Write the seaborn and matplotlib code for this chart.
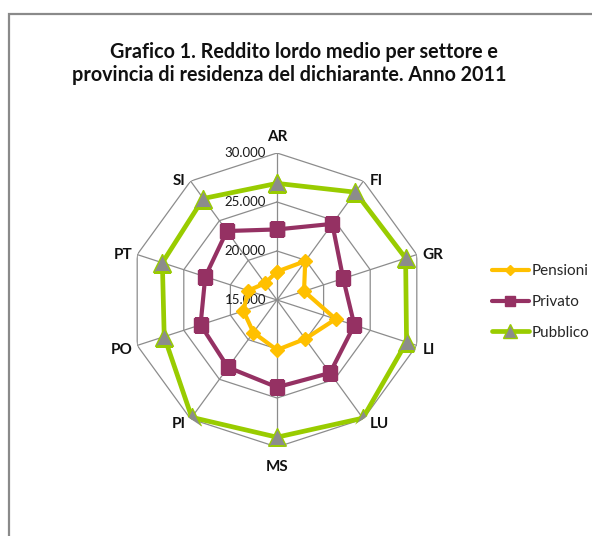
import numpy as np
import pandas as pd
import matplotlib
matplotlib.use("Agg")
import matplotlib.pyplot as plt
from matplotlib.lines import Line2D
from matplotlib.patches import Rectangle
import seaborn as sns

sns.set_theme(style="white")
plt.rcParams["font.family"] = ["Lato", "DejaVu Sans"]

# Province (clockwise from the top)
province = ["AR", "FI", "GR", "LI", "LU", "MS", "PI", "PO", "PT", "SI"]

# Average gross income (euro) by sector
pensioni = [17900, 19900, 17900, 21300, 19900, 20100, 19100, 18600, 18100, 17100]
privato = [22200, 24600, 22100, 23300, 24200, 23900, 23500, 23200, 22700, 23700]
pubblico = [26900, 28600, 28800, 28900, 29900, 29000, 29800, 27100, 27300, 27800]

serie = ["Pensioni", "Privato", "Pubblico"]
r_ticks = [15000, 20000, 25000, 30000]
r_tick_labels = ["15.000", "20.000", "25.000", "30.000"]

R_MIN, R_MAX = 15000, 30000

W, H = 592, 536
fig = plt.figure(figsize=(W / 100, H / 100), dpi=100)
fig.patch.set_facecolor("white")

# chart frame
fig.add_artist(Rectangle((9 / W, -0.1), 1.2, (H - 14) / H + 0.1,
                         transform=fig.transFigure, fill=False,
                         edgecolor="#8a8a8a", linewidth=1.6))

cx, cy, rad = 277, 300, 147
ax = fig.add_axes([(cx - rad) / W, (H - cy - rad) / H, 2 * rad / W, 2 * rad / H],
                  projection="polar")
ax.set_theta_zero_location("N")
ax.set_theta_direction(-1)
ax.set_ylim(R_MIN, R_MAX)
ax.grid(False)
ax.set_xticks([])
ax.set_yticks([])
ax.spines["polar"].set_visible(False)
ax.set_facecolor("none")

n = len(province)
theta = np.arange(n) * 2 * np.pi / n
theta_closed = np.append(theta, 2 * np.pi)

# decagonal grid and spokes
grid_c = "#8c8c8c"
for rv in r_ticks[1:]:
    ax.plot(theta_closed, [rv] * (n + 1), color=grid_c, lw=0.9, zorder=1)
for t in theta:
    ax.plot([t, t], [R_MIN, R_MAX], color=grid_c, lw=0.9, zorder=1)

# radial tick labels along the top spoke
for rv, lab in zip(r_ticks, r_tick_labels):
    ax.annotate(lab, xy=(0, rv), xytext=(-11, 0), textcoords="offset pixels",
                ha="right", va="center", fontsize=9.5, color="#1a1a1a",
                annotation_clip=False)

# category labels just outside the outer ring
for t, lab in zip(theta, province):
    s, c = np.sin(t), np.cos(t)
    if abs(s) < 0.1:
        dx, ha = 0, "center"
        dy = 16 if c > 0 else -20
    else:
        dx = 6 if s > 0 else -5
        ha = "left" if s > 0 else "right"
        dy = 0 if c > 0 else -5
    ax.annotate(lab, xy=(t, R_MAX), xytext=(dx, dy), textcoords="offset pixels",
                ha=ha, va="center", fontsize=11, fontweight="bold",
                color="#111111", annotation_clip=False)

styles = {
    "Pensioni": dict(color="#FFC000", marker="D", ms=7.2, mfc="#FFC000", mec="#FFC000", lw=3.0),
    "Privato": dict(color="#953163", marker="s", ms=10.5, mfc="#953163", mec="#953163", lw=3.0),
    "Pubblico": dict(color="#99CC00", marker="^", ms=12.5, mfc="#8c8c8c", mec="#99CC00", lw=3.4),
}

values = {"Pensioni": pensioni, "Privato": privato, "Pubblico": pubblico}
for name in serie:
    v = values[name]
    df = pd.DataFrame({"theta": theta_closed, "valore": list(v) + [v[0]]})
    st = styles[name]
    sns.lineplot(data=df, x="theta", y="valore", ax=ax, sort=False,
                 color=st["color"], linewidth=st["lw"], marker=st["marker"],
                 markersize=st["ms"], markerfacecolor=st["mfc"],
                 markeredgecolor=st["mec"], markeredgewidth=1.0, zorder=3)
ax.set_xlabel("")
ax.set_ylabel("")
ax.set_ylim(R_MIN, R_MAX)

handles = []
for name in serie:
    st = styles[name]
    handles.append(Line2D([], [], color=st["color"], lw=st["lw"], marker=st["marker"],
                          ms=st["ms"] * 0.75, mfc=st["mfc"], mec=st["mec"], mew=1.0))
fig.legend(handles, serie, loc="center left", bbox_to_anchor=(486 / W, (H - 302) / H),
           frameon=False, fontsize=11, handlelength=2.4, labelspacing=1.1,
           handletextpad=0.2, borderaxespad=0)

fig.text(304 / W, (H - 52) / H, "Grafico 1. Reddito lordo medio per settore e",
         ha="center", va="center", fontsize=14.2, fontweight="bold", color="#111111")
fig.text(289 / W, (H - 75) / H, "provincia di residenza del dichiarante. Anno 2011",
         ha="center", va="center", fontsize=14.2, fontweight="bold", color="#111111")

fig.savefig("out.png", dpi=100, facecolor="white")
